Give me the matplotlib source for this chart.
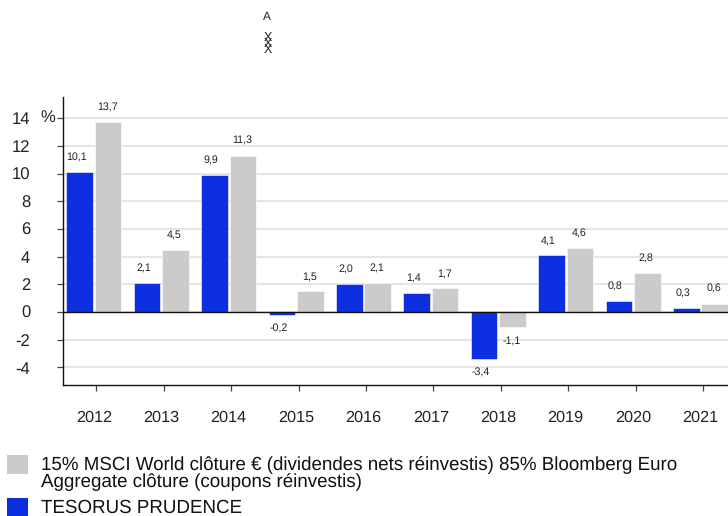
import matplotlib
matplotlib.use("Agg")
import matplotlib.pyplot as plt
from matplotlib.patches import Rectangle

plt.rcParams['font.family'] = ['Liberation Sans', 'DejaVu Sans']
plt.rcParams['text.hinting'] = 'no_hinting'

years = ['2012', '2013', '2014', '2015', '2016', '2017', '2018', '2019', '2020', '2021']
fund = [10.1, 2.1, 9.9, -0.2, 2.0, 1.4, -3.4, 4.1, 0.8, 0.3]
bench = [13.7, 4.5, 11.3, 1.5, 2.1, 1.7, -1.1, 4.6, 2.8, 0.6]
yticks = [-4, -2, 0, 2, 4, 6, 8, 10, 12, 14]
BLUE = '#0d2fe0'
GREY = '#cdcaca'
legend_bench = '15% MSCI World clôture € (dividendes nets réinvestis) 85% Bloomberg Euro\nAggregate clôture (coupons réinvestis)'
legend_fund = 'TESORUS PRUDENCE'

W, H = 728, 516
fig = plt.figure(figsize=(W / 100, H / 100), dpi=100)
L, R, T, B = 62.5, 728, 97, 384.5
ax = fig.add_axes([L / W, 1 - B / H, (R - L) / W, (B - T) / H])
step = 67.4
ax.set_xlim(-31.4 / step, -31.4 / step + (R - L) / step)
ppu = (312 - 118.2) / 14
ax.set_ylim(-(B - 312) / ppu, (312 - T) / ppu)

for s in ['top', 'right']:
    ax.spines[s].set_visible(False)
for s in ['left', 'bottom']:
    ax.spines[s].set_linewidth(1.0)
    ax.spines[s].set_color('#111111')

ax.set_yticks(yticks)
ax.set_yticklabels([str(v) for v in yticks], fontsize=12, color='#222222')
ax.tick_params(axis='y', length=4.5, width=0.9, color='#444444', pad=18.7)
ax.set_xticks([i + 2.4 / step for i in range(len(years))])
ax.set_xticklabels([''] * len(years))
ax.tick_params(axis='x', length=4.5, width=0.9, color='#444444')
ax.grid(axis='y', color='#e0e0e0', linewidth=1.2, zorder=0)
ax.set_axisbelow(True)

bw = 26.5 / step
off = 14.2 / step
for i, (a, b) in enumerate(zip(fund, bench)):
    ax.bar(i - off, a, bw, color=BLUE, edgecolor='white', linewidth=0.4, zorder=2)
    ax.bar(i + off, b, bw, color=GREY, edgecolor='white', linewidth=0.4, zorder=2)
    for x, v, shift in ((i - off, a, -3.5 / step), (i + off, b, -1 / step)):
        yy = v + 14.5 / ppu if v >= 0 else v - 13.5 / ppu
        ax.text(x + shift, yy, f'{v:.1f}'.replace('.', ','), ha='center', va='center',
                fontsize=7.7, color='#222222', zorder=3)
    ax.text(i, -(393 - 312 + 24.5) / ppu, years[i], ha='center', va='center',
            fontsize=11.7, color='#222222', clip_on=False)
ax.axhline(0, color='#111111', linewidth=1.0, zorder=4)

def px(x, y, s, **kw):
    fig.text(x / W, 1 - y / H, s, **kw)

px(47.5, 118, '%', fontsize=12, color='#222222', ha='center', va='center')
px(267, 16.5, 'A', fontsize=8.5, color='#222222', ha='center', va='center')
px(267.5, 44, 'X\nX\nX', fontsize=9, color='#222222', ha='center', va='center', linespacing=0.34)

fig.add_artist(Rectangle((7 / W, 1 - 474 / H), 21 / W, 19 / H, transform=fig.transFigure, color=GREY, lw=0))
fig.add_artist(Rectangle((7 / W, 1 - 516 / H), 21 / W, 18 / H, transform=fig.transFigure, color=BLUE, lw=0))
px(41, 473.5, legend_bench, fontsize=13.5, color='#111111', ha='left', va='center', linespacing=1.0)
px(41, 507.5, legend_fund, fontsize=13.5, color='#111111', ha='left', va='center')

fig.savefig('out.png', dpi=100)
